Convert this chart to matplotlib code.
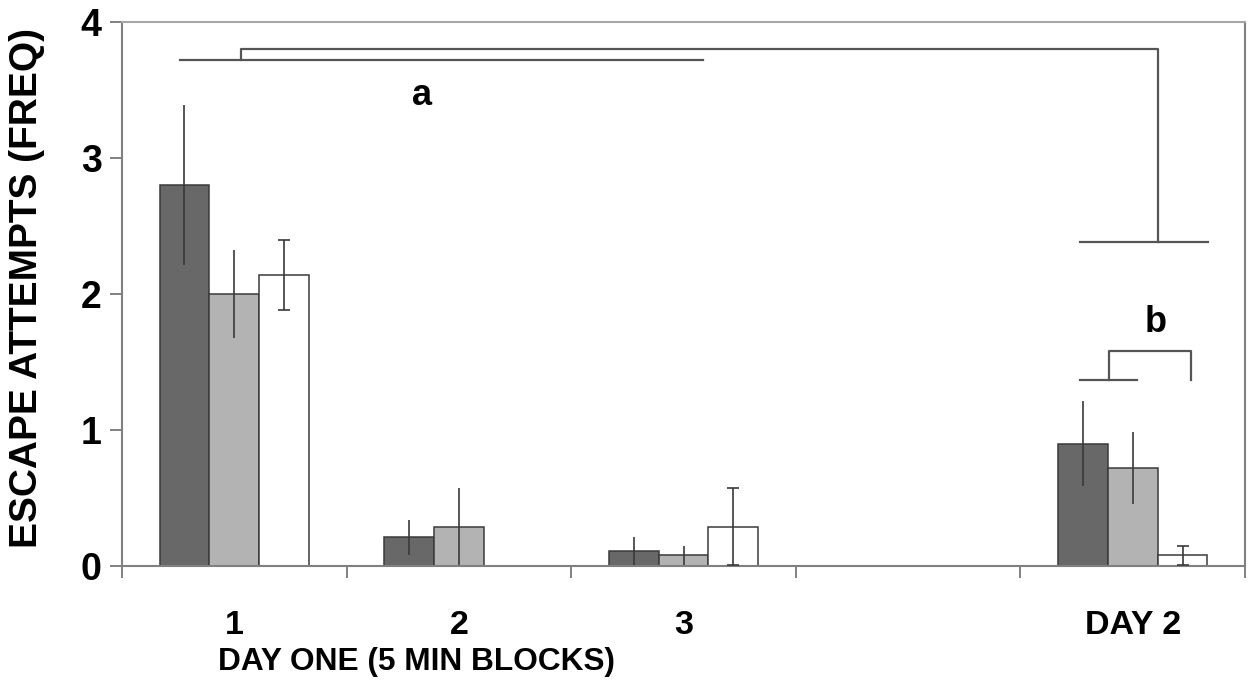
import matplotlib
matplotlib.use('Agg')
import matplotlib.pyplot as plt
import numpy as np

plt.rcParams['font.family'] = ['Liberation Sans', 'DejaVu Sans']
plt.rcParams['font.weight'] = 'bold'

# data
blocks = ['1', '2', '3', '', 'DAY 2']
dark = [2.80, 0.21, 0.11, 0.0, 0.90]
dark_err = [0.59, 0.13, 0.10, 0.0, 0.31]
gray = [2.00, 0.29, 0.08, 0.0, 0.72]
gray_err = [0.32, 0.28, 0.07, 0.0, 0.265]
white = [2.14, 0.0, 0.29, 0.0, 0.08]
white_err = [0.26, 0.0, 0.28, 0.0, 0.07]

fig = plt.figure(figsize=(12.53, 6.82), dpi=100)
ax = fig.add_axes([122/1253, 1 - 566/682, 1123/1253, 544/682])

x = np.arange(len(blocks))
w = 0.222
series = [(dark, dark_err, '#686868', -w, 0),
          (gray, gray_err, '#b3b3b3', 0, 0),
          (white, white_err, '#ffffff', w, 4)]
for vals, errs, col, off, cap in series:
    vals = np.array(vals)
    errs = np.array(errs)
    m = vals > 0
    ax.bar(x[m] + off, vals[m], w, color=col, edgecolor='#3a3a3a', linewidth=1.1, zorder=2)
    e = errs > 0
    ax.errorbar(x[e] + off, vals[e], yerr=errs[e], fmt='none', ecolor='#3a3a3a',
                elinewidth=1.2, capsize=cap, capthick=1.2, zorder=3)

ax.set_xlim(-0.5, 4.5)
ax.set_ylim(0, 4)
ax.set_yticks([0, 1, 2, 3, 4])
ax.set_yticklabels(['0', '1', '2', '3', '4'], fontsize=27, fontweight='bold')
ax.tick_params(axis='y', direction='out', length=8.6, width=1.3, color='#777777', pad=6)

ax.set_xticks(np.arange(-0.5, 5, 1))
ax.set_xticklabels([])
ax.tick_params(axis='x', which='major', direction='out', length=8.6, width=1.3, color='#777777')
ax.set_xticks(x, minor=True)
ax.set_xticklabels(blocks, minor=True, fontsize=24.5, fontweight='bold')
ax.tick_params(axis='x', which='minor', length=0, pad=32)

for s in ['left', 'bottom', 'right']:
    ax.spines[s].set_color('#808080')
    ax.spines[s].set_linewidth(1.5)
ax.spines['top'].set_color('#a8a8a8')
ax.spines['top'].set_linewidth(1.5)

ax.set_ylabel('ESCAPE ATTEMPTS (FREQ)', fontsize=28, fontweight='bold')
ax.yaxis.set_label_coords(-0.069, 0.511)

fig.text(416/1253, 1 - 662/682, 'DAY ONE (5 MIN BLOCKS)', fontsize=22.8,
         fontweight='bold', ha='center', va='center')

# significance brackets
lc = '#555555'
lw = 1.6
ax.plot([-0.242, 2.087], [3.72, 3.72], color=lc, lw=lw)
ax.plot([0.03, 0.03, 4.113, 4.113], [3.72, 3.80, 3.80, 2.38], color=lc, lw=lw)
ax.plot([3.765, 4.335], [2.38, 2.38], color=lc, lw=lw)
ax.text(0.836, 3.46, 'a', fontsize=26, fontweight='bold', ha='center', va='center')

ax.plot([3.765, 4.019], [1.37, 1.37], color=lc, lw=lw)
ax.plot([3.894, 3.894, 4.26, 4.26], [1.37, 1.58, 1.58, 1.37], color=lc, lw=lw)
ax.text(4.10, 1.79, 'b', fontsize=26, fontweight='bold', ha='center', va='center')

fig.savefig('out.png', dpi=100)
